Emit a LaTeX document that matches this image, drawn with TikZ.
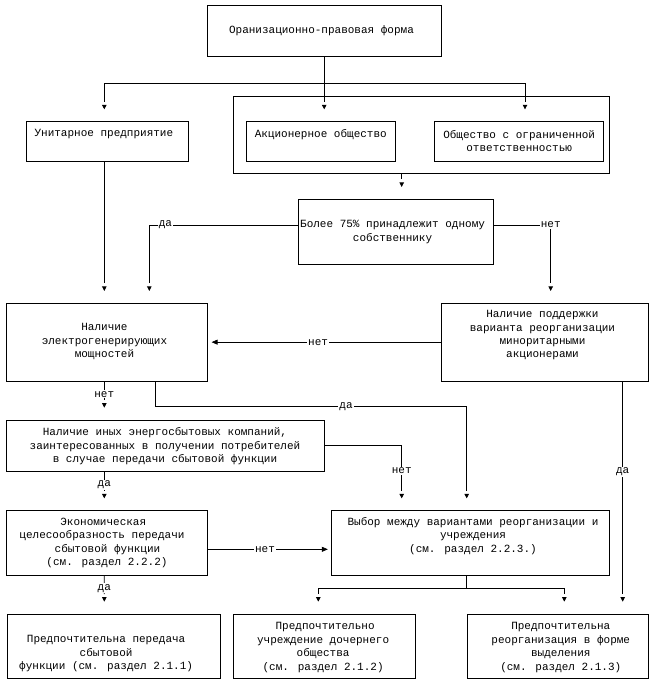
\documentclass[tikz,border=0pt]{standalone}
\usepackage{fontspec}
\setmainfont{Liberation Mono}
\usetikzlibrary{arrows.meta,decorations.markings}
\newcommand\fs{\fontsize{11}{13.4}\selectfont}
\newcommand\sh[2]{\hspace*{#1}#2}
\begin{document}
\begin{tikzpicture}[x=1pt,y=-1pt,
  box/.style={draw, line width=0.75pt, inner sep=0pt},
  txt/.style={align=center, font=\fs, inner sep=0pt},
  lbl/.style={fill=white, inner sep=1pt, font=\fs},
  conn/.style={line width=0.7pt},
  varr/.style={conn, shorten >=19.5pt, postaction={decorate, decoration={markings,
      mark=at position -12pt with {\arrow{Triangle[width=4.5pt,length=4.5pt]}}}}},
  harr/.style={conn, -{Triangle[width=5pt,length=6pt]}, shorten >=3.5pt}]
\useasboundingbox (0,0) rectangle (661,690);

\node[box, minimum width=233.7pt, minimum height=51.7pt,
  label={[txt,xshift=-2.7pt]center:{Оранизационно-правовая форма}}] (org) at (324.2,30.85) {};
\node[box, minimum width=376pt, minimum height=77.3pt] (cont) at (421.3,134.65) {};
\node[box, minimum width=161.6pt, minimum height=39.3pt,
  label={[txt,xshift=-3.6pt,yshift=7.05pt]center:{Унитарное предприятие}}] (unit) at (107.5,141.35) {};
\node[box, minimum width=149pt, minimum height=39.3pt,
  label={[txt,xshift=-0.4pt,yshift=7.05pt]center:{Акционерное общество}}] (akc) at (321.2,141.35) {};
\node[box, minimum width=169pt, minimum height=39.3pt,
  label={[txt,xshift=0.4pt,yshift=0.35pt]center:{Общество с ограниченной\\ответственностью}}] (ooo) at (518.8,141.35) {};
\node[box, minimum width=195pt, minimum height=65pt,
  label={[txt,xshift=-3.2pt]center:{Более 75\% принадлежит одному\\собственнику}}] (bolee) at (395.8,231.8) {};
\node[box, minimum width=201pt, minimum height=77.7pt,
  label={[txt,xshift=-2.7pt,yshift=0.5pt]center:{Наличие\\электрогенерирующих\\мощностей}}] (elec) at (107.2,342.15) {};
\node[box, minimum width=207.3pt, minimum height=77.7pt,
  label={[txt,xshift=-2.15pt,yshift=6.8pt]center:{Наличие поддержки\\варианта реорганизации\\миноритарными\\акционерами}}] (podd) at (544.65,342.15) {};
\node[box, minimum width=317.6pt, minimum height=51pt,
  label={[txt,xshift=-0.5pt,yshift=-0.85pt]center:{Наличие иных энергосбытовых компаний,\\заинтересованных в получении потребителей\hspace*{14pt}\\в случае передачи сбытовой функции}}] (inyh) at (165.5,445.5) {};
\node[box, minimum width=201pt, minimum height=64.3pt,
  label={[txt,xshift=-2.2pt]center:{\sh{-3.4pt}{Экономическая}\\\sh{-6pt}{целесообразность передачи}\\\sh{5pt}{сбытовой функции}\\\sh{4pt}{(см. раздел 2.2.2)}}}] (econ) at (107.2,542.85) {};
\node[box, minimum width=277.6pt, minimum height=64.3pt,
  label={[txt,xshift=2.5pt,yshift=7.05pt]center:{Выбор между вариантами реорганизации и\\учреждения\\(см. раздел 2.2.3.)}}] (vybor) at (470.5,542.85) {};
\node[box, minimum width=212.7pt, minimum height=64.3pt,
  label={[txt,xshift=-7.5pt,yshift=-7.7pt]center:{Предпочтительна передача\\сбытовой\\функции (см. раздел 2.1.1)}}] (pA) at (113.65,646.15) {};
\node[box, minimum width=181.7pt, minimum height=64.3pt,
  label={[txt,xshift=-1pt,yshift=-1.35pt]center:{\sh{4pt}{Предпочтительно}\\учреждение дочернего\\общества\\(см. раздел 2.1.2)}}] (pB) at (324.15,646.15) {};
\node[box, minimum width=181pt, minimum height=64.3pt,
  label={[txt,xshift=3pt,yshift=-1.35pt]center:{Предпочтительна\\реорганизация в форме\\выделения\\(см. раздел 2.1.3)}}] (pC) at (557.8,646.15) {};

% connectors
\coordinate (jtop) at (324.2,83.3);
\draw[varr] (org.south) -- (org.south |- akc.north);
\draw[varr] (jtop) -| ([xshift=-3.2pt]unit.north);
\draw[varr] (jtop) -| ([xshift=6.2pt]ooo.north);
\draw[varr] ([xshift=5.9pt]bolee.north |- cont.south) -- ([xshift=5.9pt]bolee.north);
\draw[varr] ([xshift=-3.2pt]unit.south) -- ([xshift=-3.2pt]unit.south |- elec.north);
\draw[varr] ([yshift=6.8pt]bolee.west) -| node[lbl,pos=0.446]{да} ([xshift=42.1pt]elec.north);
\draw[varr] ([yshift=6.8pt]bolee.east) -| node[lbl,pos=0.5]{нет} ([xshift=6.05pt]podd.north);
\draw[harr] (podd.west) -- node[lbl,pos=0.527]{нет} (elec.east);
\draw[varr] ([xshift=-2.9pt]elec.south) -- node[lbl,pos=0.333]{нет} ([xshift=-61.2pt]inyh.north);
\coordinate (jda) at (466.7,406.7);
\draw[varr] ([xshift=48.5pt]elec.south) |- node[lbl,pos=0.806]{да} (jda) -- ([xshift=-3.8pt]vybor.north);
\draw[varr] (inyh.east) -| node[lbl,pos=0.693]{нет} ([xshift=-68.8pt]vybor.north);
\draw[varr] ([xshift=-61.2pt]inyh.south) -- node[lbl,pos=0.353]{да} ([xshift=-2.9pt]econ.north);
\draw[harr] ([yshift=-6.45pt]econ.east) -- node[lbl,pos=0.462]{нет} ([yshift=-6.45pt]econ.east -| vybor.west);
\draw[varr] ([xshift=-2.9pt]econ.south) -- node[lbl,pos=0.341]{да} ([xshift=-9.35pt]pA.north);
\coordinate (jbot) at (466.7,588.3);
\draw[conn] ([xshift=-3.8pt]vybor.south) -- (jbot);
\draw[varr] (jbot) -| ([xshift=-5.85pt]pB.north);
\draw[varr] (jbot) -| ([xshift=6.5pt]pC.north);
\draw[varr] ([xshift=78.05pt]podd.south) -- node[lbl,pos=0.389]{да} ([xshift=64.9pt]pC.north);
\end{tikzpicture}
\end{document}
